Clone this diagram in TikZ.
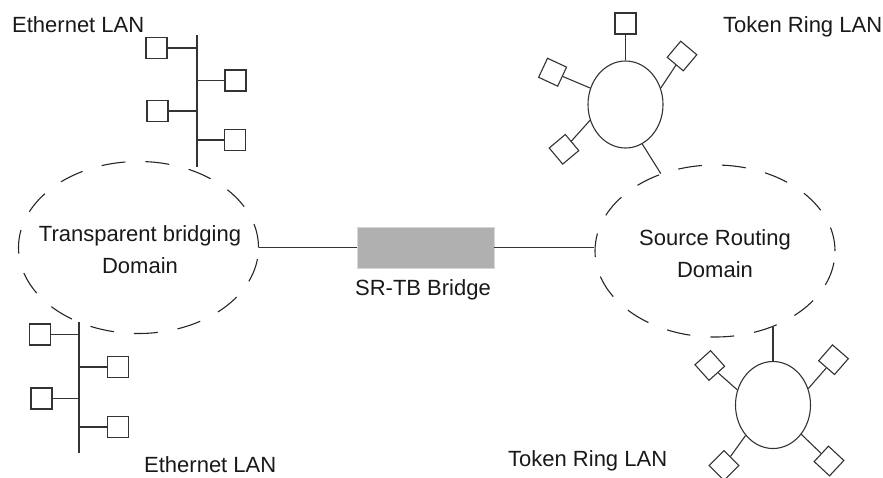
\documentclass[tikz,border=0pt]{standalone}
\usepackage{fontspec}
\setmainfont{Liberation Sans}
\usetikzlibrary{shapes.geometric}

\begin{document}
\begin{tikzpicture}[x=1pt, y=-1pt,
  lbl/.style={font=\fontsize{22}{32}\selectfont, inner sep=0pt, text=black!90},
  wire/.style={draw=black!80, line width=1.1pt},
  station/.style={draw=black!80, line width=1.1pt, minimum size=21pt,
    inner sep=0pt, fill=white},
  tokenring/.style={ellipse, draw=black!80, line width=1.1pt, minimum width=75pt,
    minimum height=87pt, inner sep=0pt},
  bridgedomain/.style={ellipse, draw=black!85, line width=1.1pt,
    dash pattern=on 24pt off 20pt, minimum width=240pt, minimum height=172pt,
    inner sep=0pt},
  bridgebox/.style={rectangle, fill={rgb,255:red,176;green,176;blue,176},
    draw={rgb,255:red,214;green,214;blue,214}, line width=0.8pt,
    minimum width=137pt, minimum height=41pt, inner sep=0pt}]
\useasboundingbox (0,0) rectangle (883,477);

% the two bridging domains and the SR-TB bridge between them
\node[bridgedomain] (TB) at (138.5,247.5) {};
\node[lbl, align=center] (TBlbl) at (140,250) {Transparent bridging\\Domain};
\node[bridgedomain] (SR) at (715,251) {};
\node[lbl, align=center] (SRlbl) at (715,254) {Source Routing\\Domain};
\node[bridgebox] (br) at (425.5,247.5) {};
\node[lbl, anchor=base] (brlbl) at (423,295) {SR-TB Bridge};
\draw[wire] (TB.east) -- (br.west);
\draw[wire] (br.east) -- (br.east -| SR.west);

% upper Ethernet segment
\node[lbl, anchor=base west] (lan1) at (12,32) {Ethernet LAN};
\coordinate (e1top) at (197,35);
\coordinate (e1bot) at (197,167);
\draw[wire] (e1top) -- (e1bot);
\node[station] (e1a) at (156.5,48) {};
\node[station] (e1b) at (235.5,80.5) {};
\node[station] (e1c) at (157.5,111) {};
\node[station] (e1d) at (235,140) {};
\foreach \s in {e1a,e1b,e1c,e1d} \draw[wire] (\s) -- (\s -| e1top);

% lower Ethernet segment
\node[lbl, anchor=base west] (lan2) at (144,472) {Ethernet LAN};
\coordinate (e2top) at (79,322);
\coordinate (e2bot) at (79,453);
\draw[wire] (e2top) -- (e2bot);
\node[station] (e2a) at (40,334.5) {};
\node[station] (e2b) at (118,367) {};
\node[station] (e2c) at (41.5,398.5) {};
\node[station] (e2d) at (118,427) {};
\foreach \s in {e2a,e2b,e2c,e2d} \draw[wire] (\s) -- (\s -| e2top);

% upper token ring
\node[lbl, anchor=base west] (lan3) at (723,32) {Token Ring LAN};
\node[tokenring] (T) at (625.5,104.5) {};
\node[station] (t1) at (625.5,23.5) {};
\node[station, rotate=50] (t2) at (682,56) {};
\node[station, rotate=65] (t3) at (552.6,72.2) {};
\node[station, rotate=40] (t4) at (564,149.3) {};
\draw[wire] (T.north) -- (t1);
\draw[wire] (T.25) -- (t2);
\draw[wire] (T.155) -- (t3);
\draw[wire] (T.204) -- (t4);
\draw[wire] (T.293) -- (SR.125);

% lower token ring
\node[lbl, anchor=base west] (lan4) at (508,466) {Token Ring LAN};
\node[tokenring] (B) at (773,405) {};
\node[station, rotate=42] (b1) at (709.8,365.5) {};
\node[station, rotate=49] (b2) at (833.5,359.7) {};
\node[station, rotate=45] (b3) at (724,465.5) {};
\node[station, rotate=47] (b4) at (829,461) {};
\draw[wire] (B.north) -- (B.north |- SR.-53);
\draw[wire] (B.157) -- (b1);
\draw[wire] (B.25) -- (b2);
\draw[wire] (B.228) -- (b3);
\draw[wire] (B.314) -- (b4);
\end{tikzpicture}
\end{document}
